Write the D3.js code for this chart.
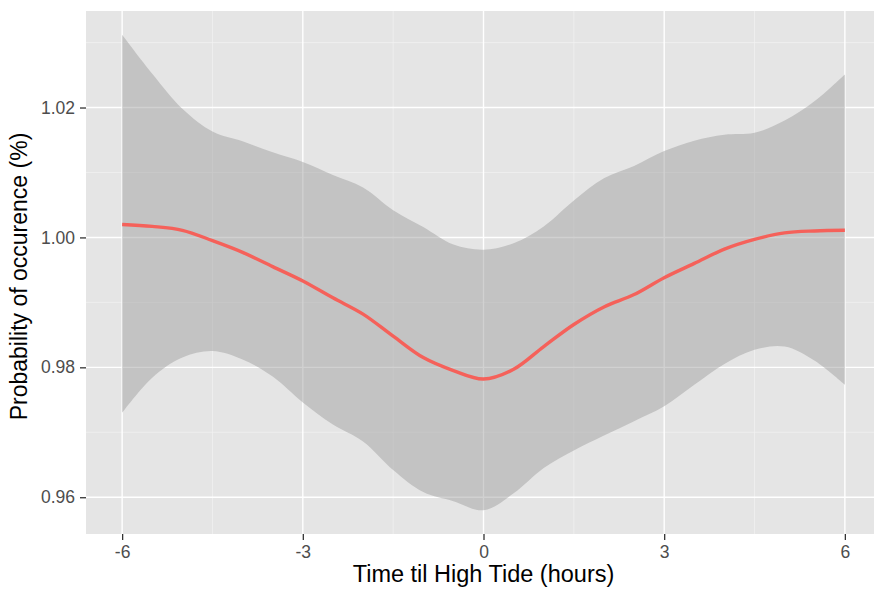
<!DOCTYPE html>
<html>
<head>
<meta charset="utf-8">
<script src="https://cdn.jsdelivr.net/npm/d3@7"></script>
<style>
  html, body { margin: 0; padding: 0; background: #ffffff; }
  svg { display: block; font-family: "Liberation Sans", Arial, Helvetica, sans-serif; }
</style>
</head>
<body>
<svg id="chart" width="874" height="591"></svg>
<script>
// Hours relative to high tide, with the smoothed fit and its confidence band
const hours = [-6, -5.5, -5, -4.5, -4, -3.5, -3, -2.5, -2, -1.5, -1, -0.5, 0,
               0.5, 1, 1.5, 2, 2.5, 3, 3.5, 4, 4.5, 5, 5.5, 6];
const fitted = [1.0020, 1.0017, 1.0011, 0.9995, 0.9977, 0.9955, 0.9933, 0.9907, 0.9882,
                0.9848, 0.9815, 0.9795, 0.9782, 0.9797, 0.9832, 0.9866, 0.9893, 0.9912,
                0.9938, 0.9960, 0.9982, 0.9997, 1.0007, 1.0010, 1.0011];
const upper = [1.0312, 1.0252, 1.0198, 1.0163, 1.0148, 1.0131, 1.0116, 1.0096, 1.0077,
               1.0042, 1.0016, 0.9989, 0.9981, 0.9991, 1.0017, 1.0057, 1.0091, 1.0110,
               1.0133, 1.0149, 1.0158, 1.0161, 1.0180, 1.0210, 1.0251];
const lower = [0.9730, 0.9784, 0.9815, 0.9825, 0.9812, 0.9786, 0.9746, 0.9712, 0.9686,
               0.9642, 0.9608, 0.9594, 0.9580, 0.9606, 0.9645, 0.9672, 0.9695, 0.9717,
               0.9740, 0.9773, 0.9805, 0.9827, 0.9832, 0.9810, 0.9773];

const xTicks = [-6, -3, 0, 3, 6];
const xMinor = [-4.5, -1.5, 1.5, 4.5];
const yTicks = [0.96, 0.98, 1.00, 1.02];
const yMinor = [0.97, 0.99, 1.01, 1.03];

const xTitle = "Time til High Tide (hours)";
const yTitle = "Probability of occurence (%)";

const rows = hours.map((h, i) => ({ h, fit: fitted[i], lo: lower[i], hi: upper[i] }));

const svg = d3.select("#chart");
const panel = { left: 86, top: 11, right: 881, bottom: 534 };

// ggplot-style 5% padding on both continuous scales
function padded(lo, hi) { const p = (hi - lo) * 0.05; return [lo - p, hi + p]; }
const xExt = d3.extent(hours);
const yExt = [d3.min(lower), d3.max(upper)];

const x = d3.scaleLinear().domain(padded(xExt[0], xExt[1])).range([panel.left, panel.right]);
const y = d3.scaleLinear().domain(padded(yExt[0], yExt[1])).range([panel.bottom, panel.top]);

svg.append("clipPath").attr("id", "panel-clip")
  .append("rect")
  .attr("x", panel.left).attr("y", panel.top)
  .attr("width", panel.right - panel.left).attr("height", panel.bottom - panel.top);

const g = svg.append("g").attr("clip-path", "url(#panel-clip)");

g.append("rect")
  .attr("x", panel.left).attr("y", panel.top)
  .attr("width", panel.right - panel.left).attr("height", panel.bottom - panel.top)
  .attr("fill", "#e5e5e5");

// minor grid
g.selectAll("line.xminor").data(xMinor).enter().append("line")
  .attr("x1", d => x(d)).attr("x2", d => x(d))
  .attr("y1", panel.top).attr("y2", panel.bottom)
  .attr("stroke", "#f2f2f2").attr("stroke-width", 0.7);
g.selectAll("line.yminor").data(yMinor).enter().append("line")
  .attr("y1", d => y(d)).attr("y2", d => y(d))
  .attr("x1", panel.left).attr("x2", panel.right)
  .attr("stroke", "#f2f2f2").attr("stroke-width", 0.7);

// major grid
g.selectAll("line.xmajor").data(xTicks).enter().append("line")
  .attr("x1", d => x(d)).attr("x2", d => x(d))
  .attr("y1", panel.top).attr("y2", panel.bottom)
  .attr("stroke", "#ffffff").attr("stroke-width", 1.4);
g.selectAll("line.ymajor").data(yTicks).enter().append("line")
  .attr("y1", d => y(d)).attr("y2", d => y(d))
  .attr("x1", panel.left).attr("x2", panel.right)
  .attr("stroke", "#ffffff").attr("stroke-width", 1.4);

// confidence band
const band = d3.area()
  .x(d => x(d.h)).y0(d => y(d.lo)).y1(d => y(d.hi))
  .curve(d3.curveCatmullRom.alpha(0.5));
g.append("path").datum(rows)
  .attr("d", band)
  .attr("fill", "#999999").attr("fill-opacity", 0.45);

// fitted line
const line = d3.line()
  .x(d => x(d.h)).y(d => y(d.fit))
  .curve(d3.curveCatmullRom.alpha(0.5));
g.append("path").datum(rows)
  .attr("d", line)
  .attr("fill", "none")
  .attr("stroke", "#f5615a")
  .attr("stroke-width", 3.4)
  .attr("stroke-linejoin", "round");

// axes
const xAxis = svg.append("g")
  .attr("transform", `translate(0,${panel.bottom})`)
  .call(d3.axisBottom(x).tickValues(xTicks).tickSize(6).tickPadding(6).tickFormat(d => String(d)));
const yAxis = svg.append("g")
  .attr("transform", `translate(${panel.left},0)`)
  .call(d3.axisLeft(y).tickValues(yTicks).tickSize(6).tickPadding(5).tickFormat(d3.format(".2f")));

[xAxis, yAxis].forEach(ax => {
  ax.select(".domain").remove();
  ax.selectAll(".tick line").attr("stroke", "#333333").attr("stroke-width", 1.3);
  ax.selectAll(".tick text")
    .attr("fill", "#4d4d4d")
    .attr("font-size", 17.5)
    .attr("font-family", "Liberation Sans, Arial, sans-serif");
});

svg.append("text")
  .attr("x", 483.5).attr("y", 582)
  .attr("text-anchor", "middle")
  .attr("font-size", 23.5).attr("fill", "#000000")
  .text(xTitle);

svg.append("text")
  .attr("transform", `translate(27,${(panel.top + panel.bottom) / 2 + 4}) rotate(-90)`)
  .attr("text-anchor", "middle")
  .attr("font-size", 23).attr("fill", "#000000")
  .text(yTitle);
</script>
</body>
</html>
